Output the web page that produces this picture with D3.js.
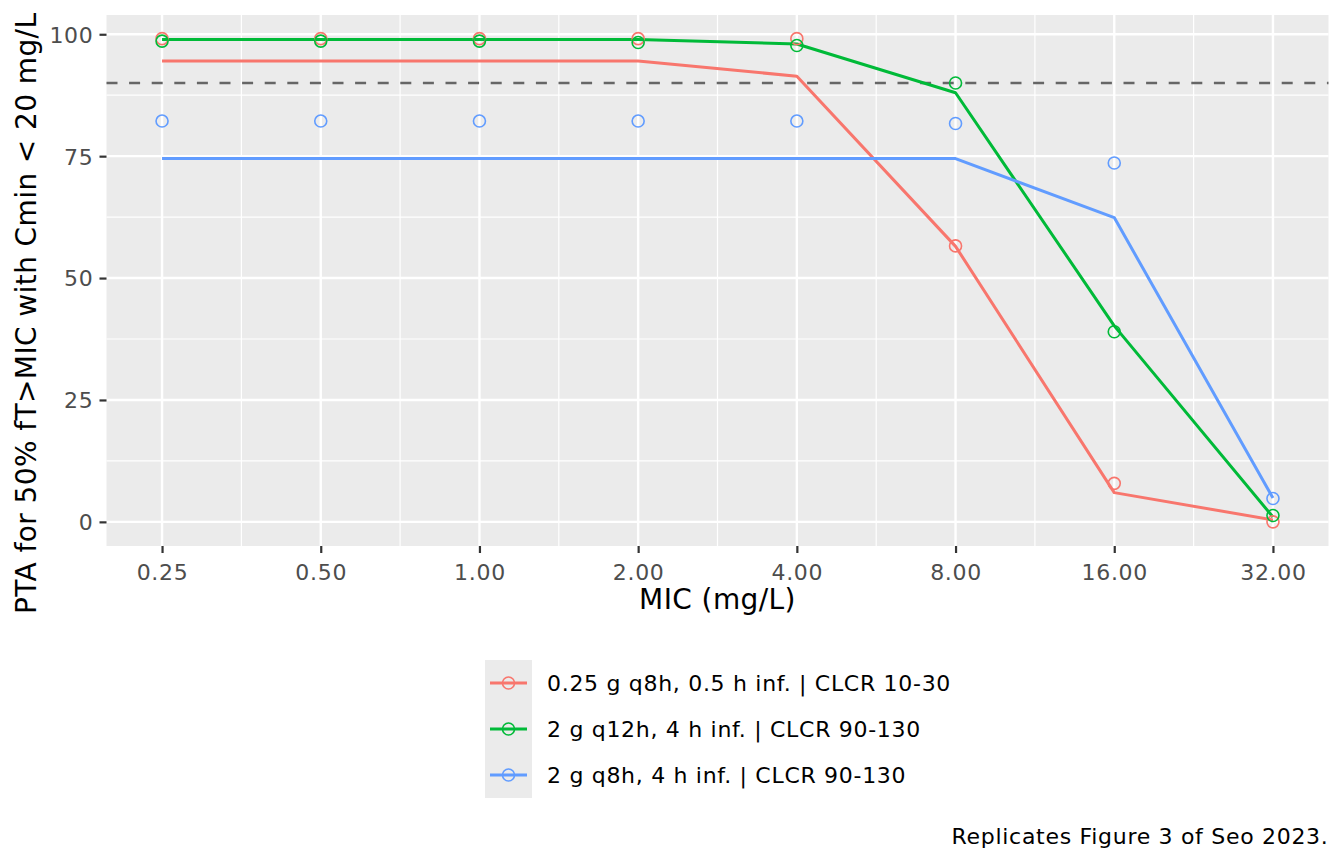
<!DOCTYPE html>
<html lang="en">

<head>
    <meta charset="UTF-8">
    <title>PTA vs MIC</title>
    <script src="https://d3js.org/d3.v7.min.js"></script>
    <style>
        body {
            margin: 0;
            background-color: white;
        }

        svg text {
            font-family: "DejaVu Sans", sans-serif;
            letter-spacing: 0.4px;
        }

        svg text.small {
            letter-spacing: 0.7px;
        }
    </style>
</head>

<body>
    <div id="chart"></div>

    <script>
        // MIC values (mg/L) on the x axis
        const mic = [0.25, 0.5, 1, 2, 4, 8, 16, 32];
        const yTicks = [0, 25, 50, 75, 100];
        const target = 90;

        const regimens = [
            "0.25 g q8h, 0.5 h inf. | CLCR 10-30",
            "2 g q12h, 4 h inf. | CLCR 90-130",
            "2 g q8h, 4 h inf. | CLCR 90-130"
        ];

        // points = replicated values, lines = reference values
        const redPoints = [99.1, 99.1, 99.1, 99.1, 99.1, 56.6, 7.9, 0];
        const redLine = [94.5, 94.5, 94.5, 94.5, 91.4, 56.5, 6.0, 0.4];
        const greenPoints = [98.6, 98.6, 98.6, 98.3, 97.7, 90.0, 39.0, 1.3];
        const greenLine = [98.9, 98.9, 98.9, 98.9, 98.0, 88.0, 40.2, 1.0];
        const bluePoints = [82.2, 82.2, 82.2, 82.2, 82.2, 81.7, 73.6, 4.8];
        const blueLine = [74.5, 74.5, 74.5, 74.5, 74.5, 74.5, 62.4, 4.9];

        const colors = ["#F8766D", "#00BA38", "#619CFF"];

        const series = [
            { name: regimens[0], points: redPoints, line: redLine, color: colors[0] },
            { name: regimens[1], points: greenPoints, line: greenLine, color: colors[1] },
            { name: regimens[2], points: bluePoints, line: blueLine, color: colors[2] }
        ];

        const W = 1344, H = 864;
        const panel = { left: 106.5, right: 1328.5, top: 15, bottom: 546 };

        const svg = d3.select("#chart")
            .append("svg")
            .attr("width", W)
            .attr("height", H);

        // ggplot style 5% expansion in log2 space for x, linear for y
        const lo = Math.log2(d3.min(mic)), hi = Math.log2(d3.max(mic));
        const padX = (hi - lo) * 0.05;
        const x = d3.scaleLog().base(2)
            .domain([Math.pow(2, lo - padX), Math.pow(2, hi + padX)])
            .range([panel.left, panel.right]);

        const padY = (99 - 0) * 0.05;
        const y = d3.scaleLinear()
            .domain([0 - padY, 99 + padY])
            .range([panel.bottom, panel.top]);

        // panel background
        svg.append("rect")
            .attr("x", panel.left)
            .attr("y", panel.top)
            .attr("width", panel.right - panel.left)
            .attr("height", panel.bottom - panel.top)
            .attr("fill", "#EBEBEB");

        // minor grid
        const minorX = mic.slice(1).map(d => Math.pow(2, Math.log2(d) - 0.5));
        const minorY = yTicks.slice(1).map(d => d - 12.5);

        svg.append("g").selectAll("line")
            .data(minorX)
            .join("line")
            .attr("x1", d => x(d)).attr("x2", d => x(d))
            .attr("y1", panel.top).attr("y2", panel.bottom)
            .attr("stroke", "white").attr("stroke-width", 1.2);

        svg.append("g").selectAll("line")
            .data(minorY)
            .join("line")
            .attr("x1", panel.left).attr("x2", panel.right)
            .attr("y1", d => y(d)).attr("y2", d => y(d))
            .attr("stroke", "white").attr("stroke-width", 1.2);

        // major grid
        svg.append("g").selectAll("line")
            .data(mic)
            .join("line")
            .attr("x1", d => x(d)).attr("x2", d => x(d))
            .attr("y1", panel.top).attr("y2", panel.bottom)
            .attr("stroke", "white").attr("stroke-width", 2.4);

        svg.append("g").selectAll("line")
            .data(yTicks)
            .join("line")
            .attr("x1", panel.left).attr("x2", panel.right)
            .attr("y1", d => y(d)).attr("y2", d => y(d))
            .attr("stroke", "white").attr("stroke-width", 2.4);

        // target line
        svg.append("line")
            .attr("x1", panel.left).attr("x2", panel.right)
            .attr("y1", y(target)).attr("y2", y(target))
            .attr("stroke", "#666666")
            .attr("stroke-width", 2.6)
            .attr("stroke-dasharray", "11,11.6");

        // axes
        const xAxis = svg.append("g")
            .attr("transform", "translate(0," + panel.bottom + ")")
            .call(d3.axisBottom(x).tickValues(mic).tickFormat(d3.format(".2f")).tickSize(7).tickPadding(6));

        const yAxis = svg.append("g")
            .attr("transform", "translate(" + panel.left + ",0)")
            .call(d3.axisLeft(y).tickValues(yTicks).tickSize(7).tickPadding(6));

        [xAxis, yAxis].forEach(a => {
            a.select(".domain").remove();
            a.selectAll(".tick line").attr("stroke", "#333333").attr("stroke-width", 2.2);
            a.selectAll(".tick text")
                .attr("class", "small")
                .attr("fill", "#4D4D4D")
                .style("font-size", "22px");
        });
        xAxis.selectAll(".tick text").attr("dy", "0.95em");
        yAxis.selectAll(".tick text").attr("dy", "0.36em");

        // data
        const line = d3.line()
            .x((d, i) => x(mic[i]))
            .y(d => y(d));

        series.forEach(s => {
            svg.append("path")
                .datum(s.line)
                .attr("fill", "none")
                .attr("stroke", s.color)
                .attr("stroke-width", 3)
                .attr("stroke-linejoin", "round")
                .attr("d", line);
        });

        series.forEach(s => {
            svg.append("g").selectAll("circle")
                .data(s.points)
                .join("circle")
                .attr("cx", (d, i) => x(mic[i]))
                .attr("cy", d => y(d))
                .attr("r", 6)
                .attr("fill", "none")
                .attr("stroke", s.color)
                .attr("stroke-width", 1.6);
        });

        // axis titles
        svg.append("text")
            .attr("x", (panel.left + panel.right) / 2)
            .attr("y", 609)
            .attr("text-anchor", "middle")
            .style("font-size", "28px")
            .text("MIC (mg/L)");

        svg.append("text")
            .attr("transform", "translate(36,614) rotate(-90)")
            .attr("text-anchor", "start")
            .style("font-size", "28px")
            .text("PTA for 50% fT>MIC with Cmin < 20 mg/L");

        // legend
        const legend = svg.append("g").attr("transform", "translate(485,660)");
        const keyH = 46;

        legend.append("rect")
            .attr("width", 47)
            .attr("height", keyH * series.length)
            .attr("fill", "#EBEBEB");

        const item = legend.selectAll(".item")
            .data(series)
            .join("g")
            .attr("class", "item")
            .attr("transform", (d, i) => "translate(0," + (i * keyH + keyH / 2) + ")");

        item.append("line")
            .attr("x1", 5).attr("x2", 42)
            .attr("stroke", d => d.color)
            .attr("stroke-width", 3);

        item.append("circle")
            .attr("cx", 23.5)
            .attr("r", 6)
            .attr("fill", "none")
            .attr("stroke", d => d.color)
            .attr("stroke-width", 1.6);

        item.append("text")
            .attr("class", "small")
            .attr("x", 62)
            .attr("dy", "0.36em")
            .style("font-size", "22px")
            .text(d => d.name);

        // caption
        svg.append("text")
            .attr("class", "small")
            .attr("x", panel.right)
            .attr("y", 844)
            .attr("text-anchor", "end")
            .style("font-size", "22px")
            .text("Replicates Figure 3 of Seo 2023.");
    </script>

</body>

</html>
